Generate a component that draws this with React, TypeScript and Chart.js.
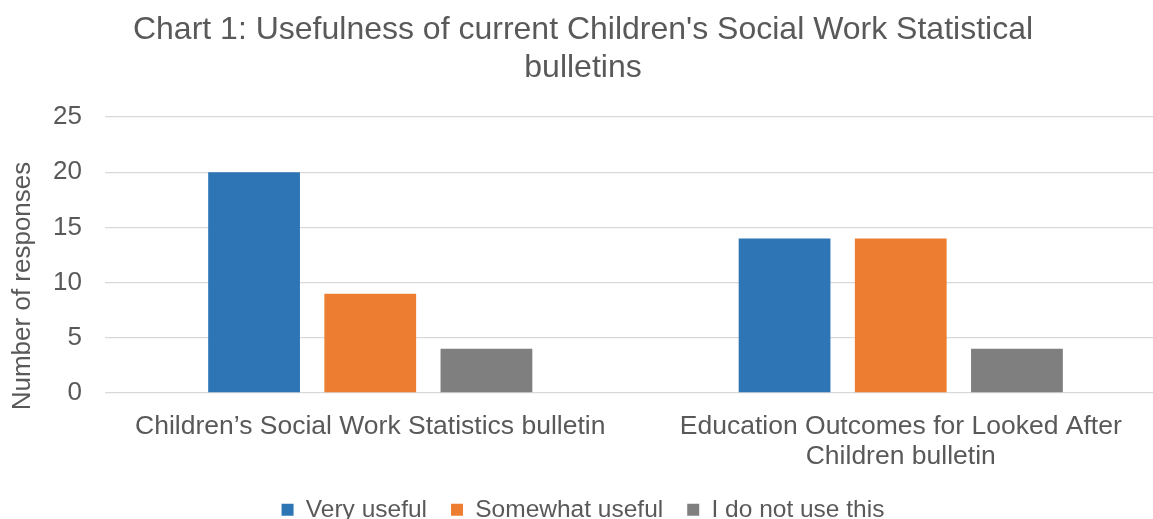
import React, { useEffect, useRef } from "react";
import { Chart, registerables } from "chart.js";

Chart.register(...registerables);

const categories: (string | string[])[] = [
  "Children’s Social Work Statistics bulletin",
  ["Education Outcomes for Looked After", "Children bulletin"],
];
const veryUseful = [20, 14];
const somewhatUseful = [9, 14];
const doNotUse = [4, 4];
const seriesNames = ["Very useful", "Somewhat useful", "I do not use this"];
const titleLines = [
  "Chart 1: Usefulness of current Children's Social Work Statistical",
  "bulletins",
];
const yAxisTitle = "Number of responses";

const FONT = "'Liberation Sans', Arial, sans-serif";
const TEXT = "#595959";

const yTitlePlugin = {
  id: "yTitlePlugin",
  afterDraw(chart: any) {
    const ctx = chart.ctx;
    ctx.save();
    ctx.translate(23, 286);
    ctx.rotate(-Math.PI / 2);
    ctx.font = `26px ${FONT}`;
    ctx.fillStyle = TEXT;
    ctx.textAlign = "center";
    ctx.textBaseline = "middle";
    ctx.fillText(yAxisTitle, 0, 0);
    ctx.restore();
  },
};

export default function App() {
  const ref = useRef<HTMLCanvasElement | null>(null);
  useEffect(() => {
    if (!ref.current) return;
    const chart = new Chart(ref.current, {
      type: "bar",
      data: {
        labels: categories,
        datasets: [
          { label: seriesNames[0], data: veryUseful, backgroundColor: "#2E75B6" },
          { label: seriesNames[1], data: somewhatUseful, backgroundColor: "#ED7D31" },
          { label: seriesNames[2], data: doNotUse, backgroundColor: "#7F7F7F" },
        ],
      },
      plugins: [yTitlePlugin],
      options: {
        animation: false,
        responsive: false,
        maintainAspectRatio: false,
        layout: { padding: { left: 0, right: 14, top: 0, bottom: 0 } },
        datasets: {
          bar: { categoryPercentage: 0.657, barPercentage: 0.79 },
        },
        plugins: {
          title: {
            display: true,
            text: titleLines,
            color: TEXT,
            font: { family: FONT, size: 32, weight: "normal", lineHeight: 1.2 },
            padding: { top: 11, bottom: 29.2 },
          },
          legend: {
            position: "bottom",
            labels: {
              color: TEXT,
              font: { family: FONT, size: 24.5 },
              boxWidth: 12,
              boxHeight: 12,
              padding: 24,
            },
          },
          tooltip: { enabled: false },
        },
        scales: {
          x: {
            grid: { display: false, drawTicks: false },
            border: { display: false },
            ticks: {
              color: TEXT,
              font: { family: FONT, size: 26.5, lineHeight: 1.15 },
              padding: 18,
              maxRotation: 0,
              autoSkip: false,
            },
            afterFit(scale: any) {
              scale.height = 80.5;
            },
          },
          y: {
            min: 0,
            max: 25,
            ticks: {
              stepSize: 5,
              color: TEXT,
              font: { family: FONT, size: 26 },
              padding: 23,
            },
            grid: { color: "#D9D9D9", lineWidth: 1.3, drawTicks: false },
            border: { display: false },
            afterFit(scale: any) {
              scale.width = 105;
            },
          },
        },
      },
    });
    return () => chart.destroy();
  }, []);
  return (
    <div
      style={{
        position: "fixed",
        left: 0,
        top: 0,
        width: 1153,
        height: 519,
        overflow: "hidden",
        background: "#fff",
      }}
    >
      <canvas ref={ref} width={1180} height={532} style={{ width: 1180, height: 532, display: "block" }} />
    </div>
  );
}
